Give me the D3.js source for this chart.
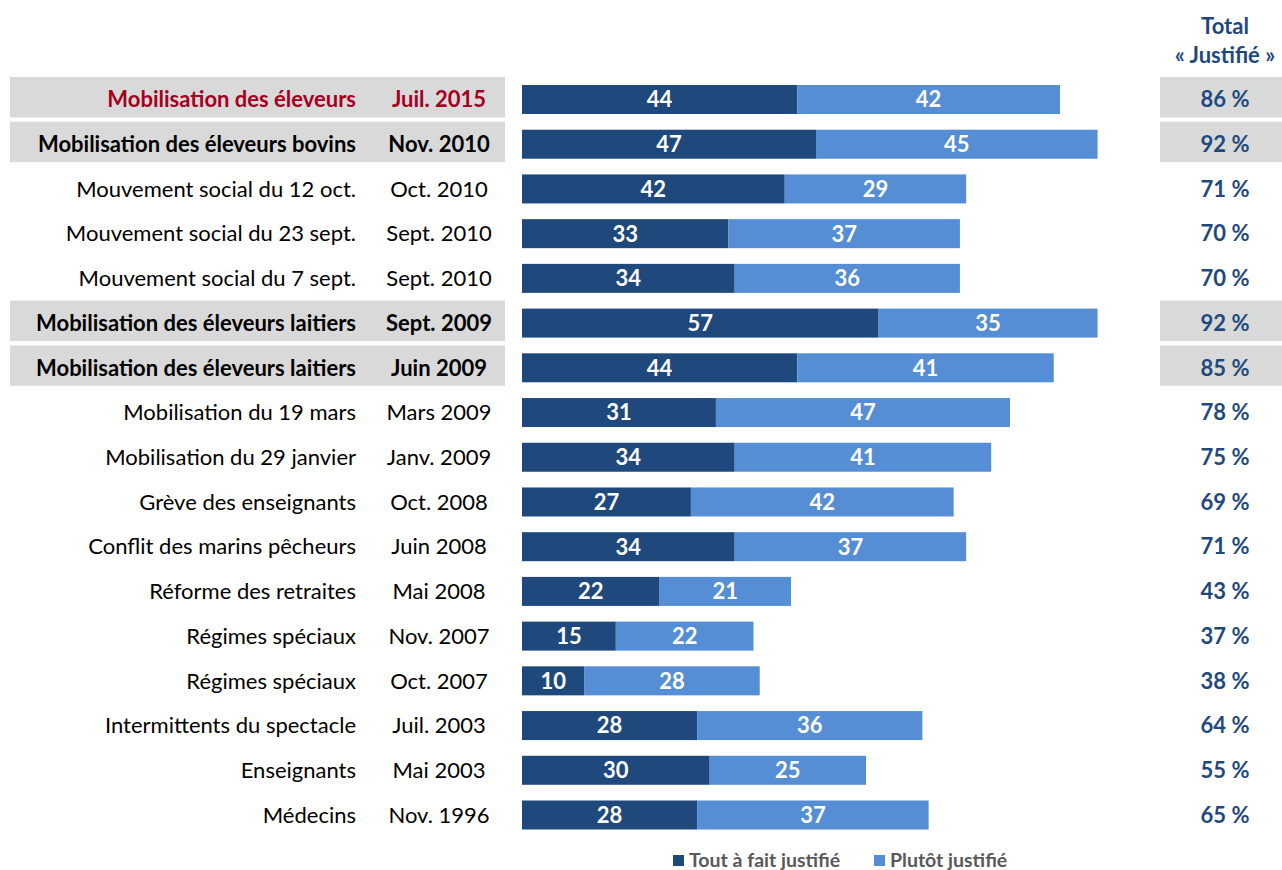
<!DOCTYPE html>
<html>
<head>
<meta charset="utf-8">
<script src="https://cdn.jsdelivr.net/npm/d3@7"></script>
<style>
  body { margin: 0; background: #fff; }
  #viz { width: 1282px; height: 870px; }
  text { font-family: Lato, "Open Sans", sans-serif; }
</style>
</head>
<body>
<div id="viz"></div>
<script>
var labels = ["Mobilisation des éleveurs", "Mobilisation des éleveurs bovins", "Mouvement social du 12 oct.",
  "Mouvement social du 23 sept.", "Mouvement social du 7 sept.", "Mobilisation des éleveurs laitiers",
  "Mobilisation des éleveurs laitiers", "Mobilisation du 19 mars", "Mobilisation du 29 janvier",
  "Grève des enseignants", "Conflit des marins pêcheurs", "Réforme des retraites", "Régimes spéciaux",
  "Régimes spéciaux", "Intermittents du spectacle", "Enseignants", "Médecins"];
var dates = ["Juil. 2015", "Nov. 2010", "Oct. 2010", "Sept. 2010", "Sept. 2010", "Sept. 2009", "Juin 2009",
  "Mars 2009", "Janv. 2009", "Oct. 2008", "Juin 2008", "Mai 2008", "Nov. 2007", "Oct. 2007", "Juil. 2003",
  "Mai 2003", "Nov. 1996"];
var toutAFait = [44, 47, 42, 33, 34, 57, 44, 31, 34, 27, 34, 22, 15, 10, 28, 30, 28];
var plutot = [42, 45, 29, 37, 36, 35, 41, 47, 41, 42, 37, 21, 22, 28, 36, 25, 37];
var totals = [86, 92, 71, 70, 70, 92, 85, 78, 75, 69, 71, 43, 37, 38, 64, 55, 65];
var highlighted = [0, 1, 5, 6];
var seriesNames = ["Tout à fait justifié", "Plutôt justifié"];

var dark = "#1f497d", light = "#558ed5", grey = "#d9d9d9", red = "#a50021";
var fs = "22px";

var svg = d3.select("#viz").append("svg")
  .attr("width", 1282).attr("height", 870);

var x = d3.scaleLinear().domain([0, 86]).range([522, 1060]);
var y = d3.scalePoint().domain(d3.range(labels.length)).range([99.5, 815]);

var rows = svg.selectAll(".row")
  .data(d3.range(labels.length))
  .enter().append("g")
    .attr("class", "row")
    .attr("transform", function(i){ return "translate(0," + y(i) + ")"; });

// grey boxes on highlighted rows
rows.filter(function(i){ return highlighted.indexOf(i) >= 0; })
  .each(function(){
    var g = d3.select(this);
    g.append("rect").attr("x", 10).attr("y", -22.5).attr("width", 495).attr("height", 40.5).attr("fill", grey);
    g.append("rect").attr("x", 1160).attr("y", -22.5).attr("width", 122).attr("height", 40.5).attr("fill", grey);
  });

function rowColor(i){ return i === 0 ? red : "#000"; }
function rowWeight(i){ return highlighted.indexOf(i) >= 0 ? "bold" : "normal"; }

rows.append("text")
  .attr("x", 356).attr("dy", "0.35em")
  .attr("text-anchor", "end")
  .style("font-size", fs)
  .style("font-weight", rowWeight)
  .attr("fill", rowColor)
  .text(function(i){ return labels[i]; });

rows.append("text")
  .attr("x", 439).attr("dy", "0.35em")
  .attr("text-anchor", "middle")
  .style("font-size", fs)
  .style("font-weight", rowWeight)
  .attr("fill", rowColor)
  .text(function(i){ return dates[i]; });

// bars
rows.append("rect")
  .attr("x", x(0)).attr("y", -14.5)
  .attr("width", function(i){ return x(toutAFait[i]) - x(0); })
  .attr("height", 29)
  .attr("fill", dark);

rows.append("rect")
  .attr("x", function(i){ return x(toutAFait[i]); }).attr("y", -14.5)
  .attr("width", function(i){ return x(toutAFait[i] + plutot[i]) - x(toutAFait[i]); })
  .attr("height", 29)
  .attr("fill", light);

rows.append("text")
  .attr("x", function(i){ return (x(0) + x(toutAFait[i])) / 2; })
  .attr("dy", "0.36em")
  .attr("text-anchor", "middle")
  .style("font-size", fs).style("font-weight", "bold")
  .attr("fill", "#fff")
  .text(function(i){ return toutAFait[i]; });

rows.append("text")
  .attr("x", function(i){ return (x(toutAFait[i]) + x(toutAFait[i] + plutot[i])) / 2; })
  .attr("dy", "0.36em")
  .attr("text-anchor", "middle")
  .style("font-size", fs).style("font-weight", "bold")
  .attr("fill", "#fff")
  .text(function(i){ return plutot[i]; });

rows.append("text")
  .attr("x", 1225).attr("dy", "0.35em")
  .attr("text-anchor", "middle")
  .style("font-size", fs).style("font-weight", "bold")
  .attr("fill", dark)
  .text(function(i){ return totals[i] + " %"; });

// header
svg.append("text").attr("x", 1225).attr("y", 34).attr("text-anchor", "middle")
  .style("font-size", fs).style("font-weight", "bold").attr("fill", dark).text("Total");
svg.append("text").attr("x", 1225).attr("y", 63).attr("text-anchor", "middle")
  .style("font-size", fs).style("font-weight", "bold").attr("fill", dark).text("« Justifié »");

// legend
var legend = svg.append("g").attr("class", "legend");
var legX = [673, 874];
[dark, light].forEach(function(c, k){
  legend.append("rect").attr("x", legX[k]).attr("y", 855).attr("width", 11).attr("height", 11).attr("fill", c);
  legend.append("text").attr("x", legX[k] + 16).attr("y", 867)
    .style("font-size", "19.5px").style("font-weight", "bold").attr("fill", "#595959")
    .text(seriesNames[k]);
});
</script>
</body>
</html>
